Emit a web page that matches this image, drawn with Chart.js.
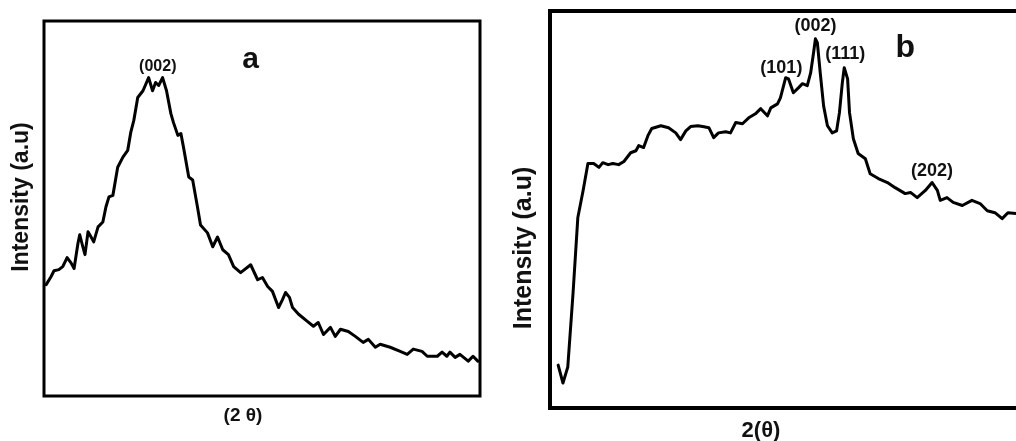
<!DOCTYPE html>
<html>
<head>
<meta charset="utf-8">
<script src="https://cdn.jsdelivr.net/npm/chart.js@4.4.1/dist/chart.umd.min.js"></script>
<style>
html, body { margin: 0; padding: 0; background: #fff; overflow: hidden; width: 1016px; height: 441px; }
canvas { position: absolute; top: 0; }
#chartA { left: 0; }
#chartB { left: 500px; }
</style>
</head>
<body>
<canvas id="chartA" width="500" height="441"></canvas>
<canvas id="chartB" width="540" height="441"></canvas>
<script>
// panel a - broad (002) hump
const aTheta = [0.5, 1.6, 2.3, 3.4, 4.3, 5.3, 6.2, 6.9, 7.8, 8.2, 8.9, 9.4, 10.1, 10.8, 11.4, 12.4, 13.5, 14.2, 14.9, 15.8,
    16.9, 18.1, 19.2, 19.9, 20.6, 21.5, 22.7, 24.0, 24.9, 25.6, 26.3, 27.2, 28.1, 29.1, 29.7, 30.7, 31.4, 32.0, 33.2, 34.1,
    35.2, 35.9, 37.5, 38.7, 39.8, 41.0, 42.3, 43.5, 45.1, 47.4, 49.0,
    50.1, 51.3, 52.4, 53.8, 54.7, 55.4, 56.3, 57.0, 58.4, 60.4, 61.8, 62.9, 64.1, 65.7, 66.8, 68.0, 69.8, 71.4, 73.2,
    74.4, 76.0, 77.1, 79.4, 81.7, 83.3, 84.7, 86.7, 87.9, 90.2, 91.3, 92.4, 93.1, 94.3, 95.4, 97.3, 98.4, 99.5]
const aIntensity = [29.7, 31.8, 33.4, 33.7, 34.5, 36.9, 35.5, 34.0, 40.8, 43.0, 39.8, 37.7, 43.8, 42.4, 41.1, 45.1, 46.4, 50.4, 53.1, 53.5,
    61.0, 63.7, 65.5, 70.3, 73.5, 79.6, 81.4, 84.9, 81.4, 83.6, 82.8, 84.9, 81.4, 75.3, 72.9, 69.5, 70.0, 66.3, 58.4, 57.6,
    50.4, 45.6, 43.5, 39.8, 42.4, 39.0, 37.7, 34.5, 32.9, 35.0, 31.0,
    31.6, 29.2, 27.9, 23.6, 25.7, 27.6, 26.3, 23.6, 21.8, 19.9, 18.6, 19.6, 16.4, 18.3, 15.9, 17.8, 17.2, 15.9, 14.3,
    15.1, 13.0, 13.8, 13.0, 11.9, 11.1, 12.5, 11.9, 10.6, 10.6, 11.7, 10.6, 11.7, 10.3, 11.1, 9.3, 10.6, 9.3]

// panel b - sharper peaks
const bTheta = [1.7, 2.7, 3.7, 4.8, 5.8, 6.9, 7.9, 9.1, 10.2, 11.0, 12.1, 13.1, 14.3, 15.4, 16.8, 17.9, 18.5, 19.5, 20.4, 21.2,
    23.1, 24.7, 26.2, 27.2, 28.3, 29.3, 30.8, 31.8, 33.1, 34.1, 35.1, 36.6, 37.6, 38.7, 40.1, 41.4, 42.8, 43.9, 45.3,
    46.0, 47.4, 48.0, 49.1, 49.7, 50.7, 51.8, 52.6, 53.6, 54.3, 54.9, 55.3, 55.7, 56.3, 57.0, 57.8, 58.8, 59.7, 60.3,
    60.9, 61.3, 62.0, 62.4, 63.2, 64.2, 65.7,
    66.7, 68.4, 70.3, 71.9, 74.0, 75.1, 76.5, 78.2, 79.6, 80.7, 81.3, 82.7, 84.0, 85.9, 87.9, 89.6, 91.1, 92.7, 94.2, 95.4, 97.1]
const bIntensity = [10.8, 6.3, 10.3, 28.9, 48.0, 54.8, 61.6, 61.6, 60.6, 61.8, 61.3, 61.6, 61.3, 62.1, 64.3, 64.8, 66.1, 65.6, 68.6, 70.4,
    71.1, 70.6, 69.3, 67.6, 69.8, 70.9, 71.1, 70.9, 70.6, 68.1, 69.3, 69.6, 69.3, 71.9, 71.6, 73.1, 74.1, 75.4, 73.6,
    75.6, 76.6, 78.1, 83.2, 82.9, 79.4, 80.7, 81.7, 81.2, 84.4, 89.4, 93.0, 92.0, 84.4, 76.1, 71.1, 69.3, 69.8, 74.4,
    81.9, 85.7, 82.9, 74.4, 67.8, 64.1, 62.8,
    59.0, 57.8, 56.8, 55.5, 54.0, 54.3, 53.0, 54.8, 56.8, 54.8, 52.3, 53.0, 51.8, 51.0, 52.3, 51.5, 49.7, 49.2, 47.7, 49.2, 49.0]

const aPeaks = ['(002)']
const aPeakPos = [[26.1, 87.8]]
const bPeaks = ['(002)', '(101)', '(111)', '(202)']
const bPeakPos = [[55.3, 96.2], [48.2, 85.7], [61.5, 89.2], [79.6, 59.8]]

const FONT = '"Liberation Sans", Arial, sans-serif'

// draws the box round the plot and all the text
function panelPlugin(frameWidth, labels) {
    return {
        id: 'panel',
        afterDraw(chart) {
            const { ctx, chartArea: a, scales } = chart
            ctx.save()
            ctx.strokeStyle = '#000'
            ctx.lineWidth = frameWidth
            ctx.strokeRect(a.left, a.top, a.right - a.left, a.bottom - a.top)
            ctx.fillStyle = '#111'
            ctx.textAlign = 'center'
            ctx.textBaseline = 'middle'
            labels.forEach(l => {
                const x = l.onData ? scales.x.getPixelForValue(l.x) : l.x
                const y = l.onData ? scales.y.getPixelForValue(l.y) : l.y
                ctx.save()
                ctx.translate(x, y)
                if (l.angle) ctx.rotate(l.angle)
                ctx.font = 'bold ' + l.size + 'px ' + FONT
                ctx.fillText(l.text, 0, 0)
                ctx.restore()
            })
            ctx.restore()
        }
    }
}

function makeChart(id, theta, intensity, pad, frameWidth, labels) {
    return new Chart(document.getElementById(id), {
        type: 'line',
        data: {
            datasets: [{
                data: theta.map((t, i) => ({ x: t, y: intensity[i] })),
                borderColor: '#000',
                borderWidth: 3,
                borderJoinStyle: 'round',
                borderCapStyle: 'round',
                pointRadius: 0,
                tension: 0,
                fill: false
            }]
        },
        options: {
            responsive: false,
            animation: false,
            layout: { padding: pad },
            scales: {
                x: { type: 'linear', min: 0, max: 100, display: false },
                y: { min: 0, max: 100, display: false }
            },
            plugins: { legend: { display: false }, tooltip: { enabled: false } }
        },
        plugins: [panelPlugin(frameWidth, labels)]
    })
}

const aLabels = [
    { text: 'Intensity (a.u)', x: 22, y: 197, size: 23, angle: -Math.PI / 2 },
    { text: '(2 θ)', x: 243, y: 416, size: 19 },
    { text: 'a', x: 47.4, y: 89.7, size: 30, onData: true }
].concat(aPeaks.map((p, i) => ({ text: p, x: aPeakPos[i][0], y: aPeakPos[i][1], size: 16, onData: true })))

const bLabels = [
    { text: 'Intensity (a.u)', x: 24, y: 248, size: 25, angle: -Math.PI / 2 },
    { text: '2(θ)', x: 261, y: 431, size: 22 },
    { text: 'b', x: 74.0, y: 90.7, size: 32, onData: true }
].concat(bPeaks.map((p, i) => ({ text: p, x: bPeakPos[i][0], y: bPeakPos[i][1], size: 18, onData: true })))

makeChart('chartA', aTheta, aIntensity, { left: 44, right: 20, top: 21, bottom: 45 }, 3, aLabels)
makeChart('chartB', bTheta, bIntensity, { left: 50, right: 10, top: 11, bottom: 33 }, 4, bLabels)
</script>
</body>
</html>
